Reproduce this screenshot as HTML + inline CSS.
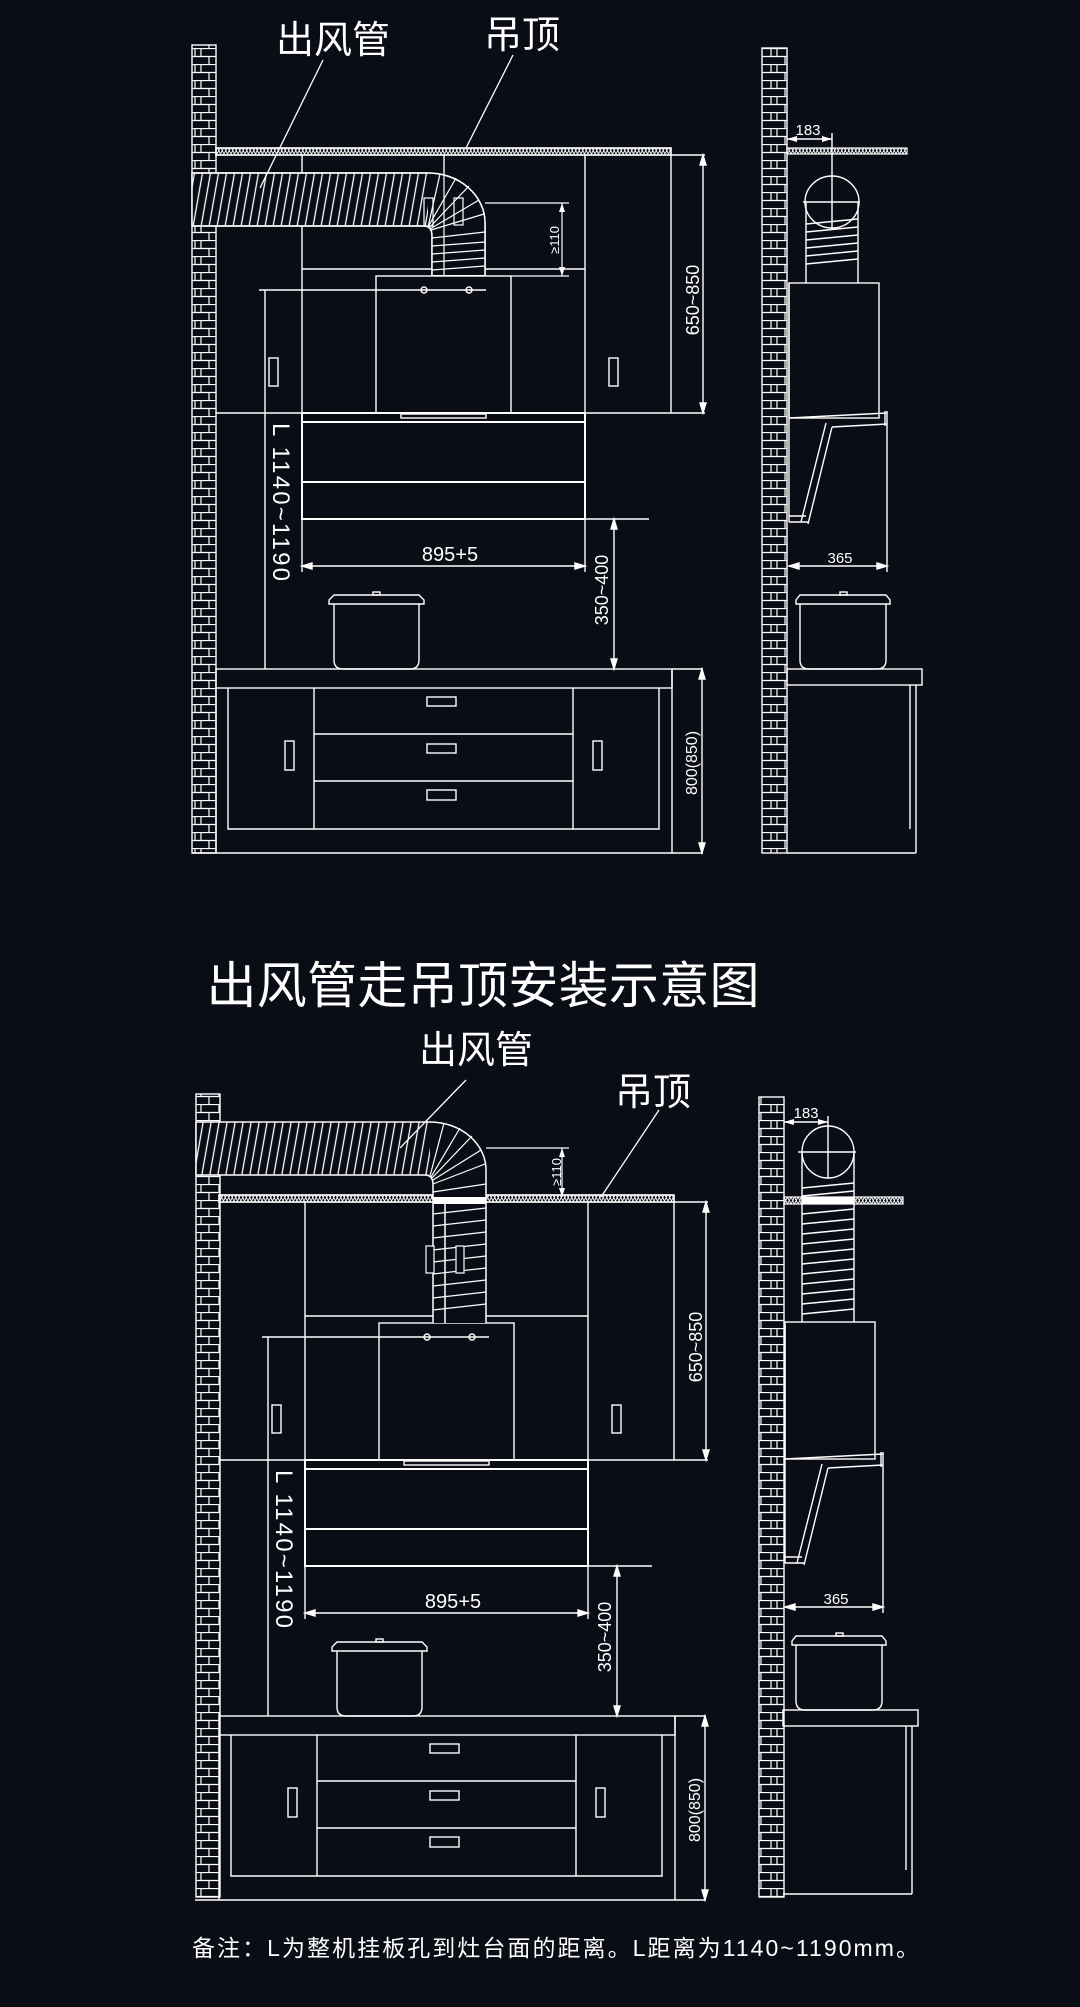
<!DOCTYPE html>
<html><head><meta charset="utf-8"><style>
html,body{margin:0;padding:0;background:#0a0d16;}
svg{display:block}
text{fill:#fff;font-family:"Liberation Sans","Noto Sans CJK SC",sans-serif}
</style></head><body>
<svg width="1080" height="2007" viewBox="0 0 1080 2007" xmlns="http://www.w3.org/2000/svg">
<defs>
<pattern id="brick" patternUnits="userSpaceOnUse" width="24" height="16">
<rect width="24" height="16" fill="#0a0d16"/>
<path d="M0 0.5H24M0 8.5H24M9 0V8M17 8V16M3 0V8" stroke="#fff" stroke-width="1.2" fill="none"/>
</pattern>
<pattern id="hatch" patternUnits="userSpaceOnUse" width="8" height="60" patternTransform="skewX(-10)">
<rect width="8" height="60" fill="#0a0d16"/>
<path d="M1 0V60" stroke="#fff" stroke-width="1.3"/>
</pattern>
<pattern id="zig" patternUnits="userSpaceOnUse" width="7" height="7">
<path d="M0 0L3.5 7L7 0M0 7L3.5 0L7 7" stroke="#fff" stroke-width="0.9" fill="none"/>
</pattern>
<g id="cab" stroke="#fff" stroke-width="1.4" fill="none">
<!-- ceiling -->
<rect x="216" y="148" width="455" height="7" fill="url(#zig)"/>
<rect x="216" y="148" width="455" height="7"/>
<!-- upper cabinets -->
<path d="M302 155V413M585 155V413M671 155V413M216 413H705M302 269H585"/>
<rect x="269" y="358" width="9" height="28"/>
<rect x="609" y="358" width="9" height="28"/>
<!-- hood box -->
<rect x="376" y="276" width="135" height="137"/>
<path d="M259 290H486"/>
<circle cx="424" cy="290" r="3"/><circle cx="469" cy="290" r="3"/>
<path d="M265 290V669"/>
<!-- hood lower -->
<rect x="302" y="413" width="283" height="106" stroke-width="2"/>
<path d="M302 422H585M302 482H585" stroke-width="2"/>
<rect x="401" y="414" width="85" height="4"/>
<path d="M585 519H649"/>
<!-- 895+5 -->
<path d="M302 519V572M585 519V572M302 566H585"/>
<path d="M302 566l10 -3v6zM585 566l-10 -3v6z" fill="#fff"/>
<!-- 350-400 -->
<path d="M614 519V669"/>
<path d="M614 519l-3 10h6zM614 669l-3 -10h6z" fill="#fff"/>
<!-- 650-850 -->
<path d="M671 155H705M703 155V413"/>
<path d="M703 155l-3 10h6zM703 413l-3 -10h6z" fill="#fff"/>
<!-- pot -->
<path d="M334 604V660Q334 669 343 669H410Q419 669 419 660V604"/>
<path d="M329 604H424V600L419 595H334L329 600Z"/>
<rect x="373" y="592" width="7" height="3"/>
<!-- counter -->
<rect x="216" y="669" width="456" height="19"/>
<path d="M672 669H703M192 853H703M672 669V853M216 688V853"/>
<path d="M702 669V853"/>
<path d="M702 669l-3 10h6zM702 853l-3 -10h6z" fill="#fff"/>
<path d="M228 688V829H659V688M314 688V829M573 688V829M314 734H573M314 781H573"/>
<rect x="427" y="697" width="29" height="9"/><rect x="427" y="744" width="29" height="9"/><rect x="427" y="790" width="29" height="10"/>
<rect x="285" y="741" width="9" height="29"/><rect x="593" y="741" width="9" height="29"/>
</g>
<g id="side" stroke="#fff" stroke-width="1.4" fill="none">
<path d="M789 418L887 413M887 411V572M885 411V426"/>
<path d="M789 283V522M826 423L801 522M832 427L808 524M832 427L887 424M789 516H806M789 522H808"/>
<path d="M789 566H887"/>
<path d="M789 566l10 -3v6zM887 566l-10 -3v6z" fill="#fff"/>
<path d="M800 604V660Q800 669 809 669H877Q886 669 886 660V604"/>
<path d="M796 604H890V600L886 595H800L796 600Z"/>
<rect x="840" y="592" width="7" height="3"/>
<rect x="787" y="669" width="135" height="16"/>
<path d="M916 685V853M910 685V829M787 853H916"/>
</g>
</defs>

<!-- ===== TOP DIAGRAM ===== -->
<rect x="192" y="45" width="24" height="808" fill="url(#brick)" stroke="#fff" stroke-width="1.4"/>
<use href="#cab"/>
<path d="M444 155V269" stroke="#fff" stroke-width="1.2"/>
<!-- duct -->
<path d="M192 173H428A57 50 0 0 1 485 223V275H432V236Q432 226 424 226H192Z" fill="url(#hatch)" stroke="#fff" stroke-width="1.5"/>
<path d="M428 173A57 50 0 0 1 485 223V275H432V236Q432 226 424 226H428Z" fill="#0a0d16" stroke="none"/>
<path d="M192 173H428A57 50 0 0 1 485 223V275M432 275V236Q432 226 424 226H192" fill="none" stroke="#fff" stroke-width="1.5"/>
<g stroke="#fff" stroke-width="1.2">
<path d="M428 227L440 174M428 227L456 178M429 228L469 186M430 229L479 200M431 230L484 214M432 238L485 232M432 246L485 242M432 254L485 250M432 262L485 258M432 270L485 266"/>
</g>
<rect x="424" y="198" width="9" height="28" fill="none" stroke="#fff" stroke-width="1.2"/>
<rect x="454" y="198" width="9" height="27" fill="none" stroke="#fff" stroke-width="1.2"/>
<path d="M444 155V275" stroke="#fff" stroke-width="1.2"/>
<!-- >=110 -->
<path d="M485 203H569M511 276H569M562 203V276" stroke="#fff" stroke-width="1.2" fill="none"/>
<path d="M562 203l-3 9h6zM562 276l-3 -9h6z" fill="#fff"/>
<text x="555" y="240" font-size="13" text-anchor="middle" transform="rotate(-90 555 240)" dy="4">≥110</text>
<!-- leaders -->
<path d="M323 60L260 188M513 55L466 148" stroke="#fff" stroke-width="1.3"/>
<text x="333" y="53" font-size="38" text-anchor="middle">出风管</text>
<text x="522" y="48" font-size="38" text-anchor="middle">吊顶</text>
<!-- dim texts -->
<text x="450" y="561" font-size="20" text-anchor="middle">895+5</text>
<text x="0" y="0" font-size="18" text-anchor="middle" transform="translate(608 590) rotate(-90)">350~400</text>
<text x="0" y="0" font-size="18" text-anchor="middle" transform="translate(699 300) rotate(-90)">650~850</text>
<text x="0" y="0" font-size="16" text-anchor="middle" transform="translate(697 763) rotate(-90)">800(850)</text>
<text x="0" y="0" font-size="24" textLength="158" lengthAdjust="spacing" transform="translate(273 423) rotate(90)">L 1140~1190</text>

<!-- side view top -->
<rect x="762" y="48" width="25" height="805" fill="url(#brick)" stroke="#fff" stroke-width="1.4"/>
<rect x="787" y="148" width="120" height="6" fill="url(#zig)" stroke="#fff" stroke-width="1.2"/>
<g stroke="#fff" stroke-width="1.4" fill="none">
<path d="M787 139H832M832 133V229"/>
<path d="M806 202V283M858 202V283M803 202H860"/>
<ellipse cx="832" cy="202" rx="27" ry="26"/>
<path d="M806 224L858 219M806 232L858 227M806 240L858 235M806 248L858 243M806 256L858 251M806 264L858 259"/>
<rect x="789" y="283" width="90" height="135"/>
</g>
<path d="M787 139l10 -3v6zM832 139l-10 -3v6z" fill="#fff"/>
<text x="808" y="135" font-size="15" text-anchor="middle">183</text>
<use href="#side"/>
<text x="840" y="563" font-size="15" text-anchor="middle">365</text>

<!-- title -->
<text x="483" y="1003" font-size="50" text-anchor="middle" textLength="553" lengthAdjust="spacing">出风管走吊顶安装示意图</text>

<!-- ===== BOTTOM DIAGRAM ===== -->
<rect x="196" y="1094" width="24" height="803" fill="url(#brick)" stroke="#fff" stroke-width="1.4"/>
<use href="#cab" transform="translate(3 1047)"/>
<!-- duct -->
<path d="M196 1122H430A56 48 0 0 1 486 1170V1323H433V1185Q433 1175 425 1175H196Z" fill="url(#hatch)" stroke="none"/>
<path d="M430 1122A56 48 0 0 1 486 1170V1323H433V1185Q433 1175 425 1175H430Z" fill="#0a0d16" stroke="none"/>
<rect x="433" y="1197" width="53" height="7" fill="#fff"/>
<path d="M196 1122H430A56 48 0 0 1 486 1170V1323M433 1323V1185Q433 1175 425 1175H196M196 1122V1175M445 1204V1323" fill="none" stroke="#fff" stroke-width="1.5"/>
<g stroke="#fff" stroke-width="1.2">
<path d="M430 1176L444 1123M431 1177L460 1128M432 1178L472 1136M433 1180L481 1150M433 1184L485 1164M433 1192L486 1184M433 1214L486 1208M433 1226L486 1220M433 1238L486 1232M433 1250L486 1244M433 1262L486 1256M433 1274L486 1268M433 1286L486 1280M433 1298L486 1292M433 1310L486 1304"/>
</g>
<rect x="426" y="1246" width="8" height="27" fill="#0a0d16" stroke="#fff" stroke-width="1.2"/>
<rect x="456" y="1246" width="8" height="27" fill="#0a0d16" stroke="#fff" stroke-width="1.2"/>
<path d="M486 1148H569M562 1148V1197" stroke="#fff" stroke-width="1.2" fill="none"/>
<path d="M562 1148l-3 9h6zM562 1197l-3 -9h6z" fill="#fff"/>
<text x="0" y="0" font-size="13" text-anchor="middle" transform="translate(557 1172) rotate(-90)" dy="4">≥110</text>
<path d="M466 1080L400 1148M659 1110L601 1197" stroke="#fff" stroke-width="1.3"/>
<text x="476" y="1063" font-size="38" text-anchor="middle">出风管</text>
<text x="653" y="1105" font-size="38" text-anchor="middle">吊顶</text>
<text x="453" y="1608" font-size="20" text-anchor="middle">895+5</text>
<text x="0" y="0" font-size="18" text-anchor="middle" transform="translate(611 1637) rotate(-90)">350~400</text>
<text x="0" y="0" font-size="18" text-anchor="middle" transform="translate(702 1347) rotate(-90)">650~850</text>
<text x="0" y="0" font-size="16" text-anchor="middle" transform="translate(700 1810) rotate(-90)">800(850)</text>
<text x="0" y="0" font-size="24" textLength="158" lengthAdjust="spacing" transform="translate(276 1470) rotate(90)">L 1140~1190</text>

<!-- side view bottom -->
<rect x="759" y="1097" width="25" height="800" fill="url(#brick)" stroke="#fff" stroke-width="1.4"/>
<rect x="784" y="1197" width="119" height="7" fill="url(#zig)" stroke="#fff" stroke-width="1.2"/>
<rect x="802" y="1197" width="52" height="7" fill="#fff"/>
<g stroke="#fff" stroke-width="1.4" fill="none">
<path d="M784 1122H828M828 1116V1178"/>
<path d="M802 1152V1322M854 1152V1322M798 1152H856"/>
<ellipse cx="828" cy="1152" rx="26" ry="26"/>
<path d="M802 1188L854 1183M802 1196L854 1191M802 1214L854 1209M802 1224L854 1219M802 1234L854 1229M802 1244L854 1239M802 1254L854 1249M802 1264L854 1259M802 1274L854 1269M802 1284L854 1279M802 1294L854 1289M802 1304L854 1299M802 1314L854 1309"/>
<rect x="785" y="1322" width="90" height="137"/>
</g>
<path d="M784 1122l10 -3v6zM828 1122l-10 -3v6z" fill="#fff"/>
<text x="806" y="1118" font-size="15" text-anchor="middle">183</text>
<use href="#side" transform="translate(-4 1041)"/>
<text x="836" y="1604" font-size="15" text-anchor="middle">365</text>

<!-- footnote -->
<text x="192" y="1956" font-size="23" textLength="727" lengthAdjust="spacing">备注：L为整机挂板孔到灶台面的距离。L距离为1140~1190mm。</text>
</svg>
</body></html>
